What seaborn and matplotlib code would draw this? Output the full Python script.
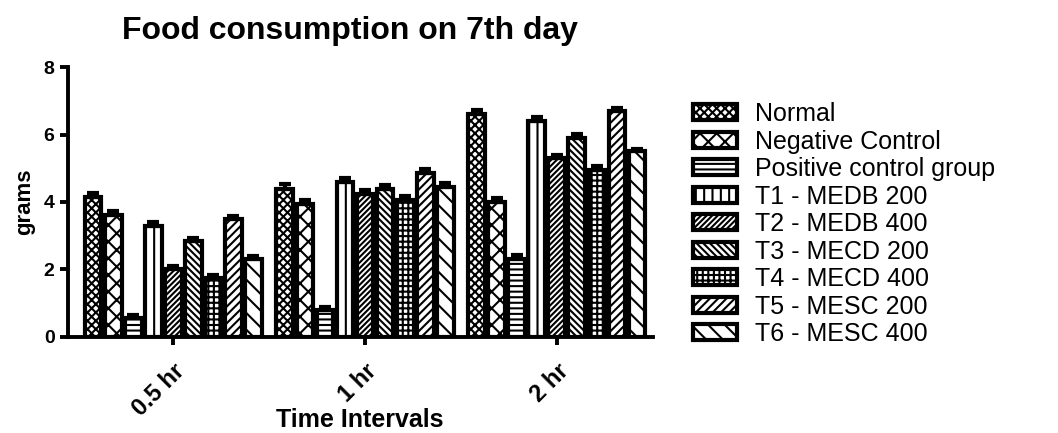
import numpy as np
import pandas as pd
import matplotlib
matplotlib.use("Agg")
import matplotlib.pyplot as plt
import seaborn as sns
from matplotlib.patches import Patch

# Time points and treatment groups
intervals = ["0.5 hr", "1 hr", "2 hr"]
groups = ["Normal", "Negative Control", "Positive control group",
          "T1 - MEDB 200", "T2 - MEDB 400", "T3 - MECD 200",
          "T4 - MECD 400", "T5 - MESC 200", "T6 - MESC 400"]

# Mean food consumption (grams) per group, one value per interval
normal   = [4.15, 4.40, 6.60]
negative = [3.60, 3.95, 4.00]
positive = [0.55, 0.80, 2.30]
t1       = [3.30, 4.60, 6.40]
t2       = [2.00, 4.25, 5.30]
t3       = [2.85, 4.40, 5.90]
t4       = [1.75, 4.05, 4.95]
t5       = [3.50, 4.85, 6.70]
t6       = [2.30, 4.45, 5.50]

# Standard errors
sem_normal   = [0.13, 0.12, 0.12]
sem_negative = [0.12, 0.11, 0.11]
sem_positive = [0.11, 0.10, 0.12]
sem_t1       = [0.10, 0.12, 0.13]
sem_t2       = [0.10, 0.10, 0.10]
sem_t3       = [0.09, 0.10, 0.11]
sem_t4       = [0.09, 0.12, 0.11]
sem_t5       = [0.08, 0.13, 0.10]
sem_t6       = [0.09, 0.10, 0.07]

means = [normal, negative, positive, t1, t2, t3, t4, t5, t6]
sems = [sem_normal, sem_negative, sem_positive, sem_t1, sem_t2, sem_t3,
        sem_t4, sem_t5, sem_t6]
hatches = ["xxxx", "xx", "---", "||", "//////", "\\\\\\\\\\", "+++", "////", "\\\\"]

df = pd.DataFrame([
    {"Interval": iv, "Group": g, "grams": means[gi][ii]}
    for gi, g in enumerate(groups) for ii, iv in enumerate(intervals)
])

sns.set_style("ticks")
plt.rcParams["font.family"] = ["Liberation Sans", "DejaVu Sans"]
plt.rcParams.update({
    "hatch.linewidth": 1.5,
    "hatch.color": "black",
    "text.color": "black",
    "axes.labelcolor": "black",
    "axes.edgecolor": "black",
    "xtick.color": "black",
    "ytick.color": "black",
})

fig = plt.figure(figsize=(10.58, 4.33), dpi=100)
ax = fig.add_axes([0.064, 0.222, 0.553, 0.623])

sns.barplot(data=df, x="Interval", y="grams", hue="Group", order=intervals,
            hue_order=groups, palette=["white"] * len(groups), errorbar=None,
            width=0.94, gap=0.16, edgecolor="black", linewidth=3.0,
            legend=False, ax=ax)

bar_containers = list(ax.containers)
for gi, cont in enumerate(bar_containers):
    for ii, bar in enumerate(cont.patches):
        bar.set_hatch(hatches[gi])
        x = bar.get_x() + bar.get_width() / 2
        ax.errorbar(x, means[gi][ii], yerr=[[0], [sems[gi][ii]]], fmt="none",
                    ecolor="black", elinewidth=3, capsize=4.5, capthick=3,
                    zorder=1)

ax.set_xlim(-0.55, 2.5)
ax.set_ylim(0, 8)
ax.set_yticks([0, 2, 4, 6, 8])
for s in ["left", "bottom"]:
    ax.spines[s].set_linewidth(2.8)
    ax.spines[s].set_color("black")
sns.despine(ax=ax)
ax.tick_params(axis="both", width=2.8, length=6, labelsize=14, color="black",
               labelcolor="black")
ax.tick_params(axis="x", pad=10)
for lab in ax.get_yticklabels():
    lab.set_fontweight("bold")
ax.set_xticks(range(len(intervals)))
ax.set_xticklabels(intervals, rotation=45, ha="right", rotation_mode="anchor",
                   fontweight="bold", fontsize=17)
ax.set_xlabel("Time Intervals", fontsize=18, fontweight="bold")
ax.xaxis.set_label_coords(0.5, -0.262)
ax.set_ylabel("grams", fontsize=16, fontweight="bold", labelpad=6)
ax.set_title("Food consumption on 7th day", fontsize=23, fontweight="bold",
             pad=20, x=0.482)

handles = [Patch(facecolor="white", edgecolor="black", linewidth=3,
                 hatch=hatches[i], label=groups[i]) for i in range(len(groups))]
fig.legend(handles=handles, loc="upper left", bbox_to_anchor=(0.646, 0.787),
           frameon=False, fontsize=18, handlelength=1.75, handleheight=0.6,
           handletextpad=0.7, labelspacing=0.14, borderaxespad=0,
           labelcolor="black")

fig.savefig("out.png", dpi=100)
